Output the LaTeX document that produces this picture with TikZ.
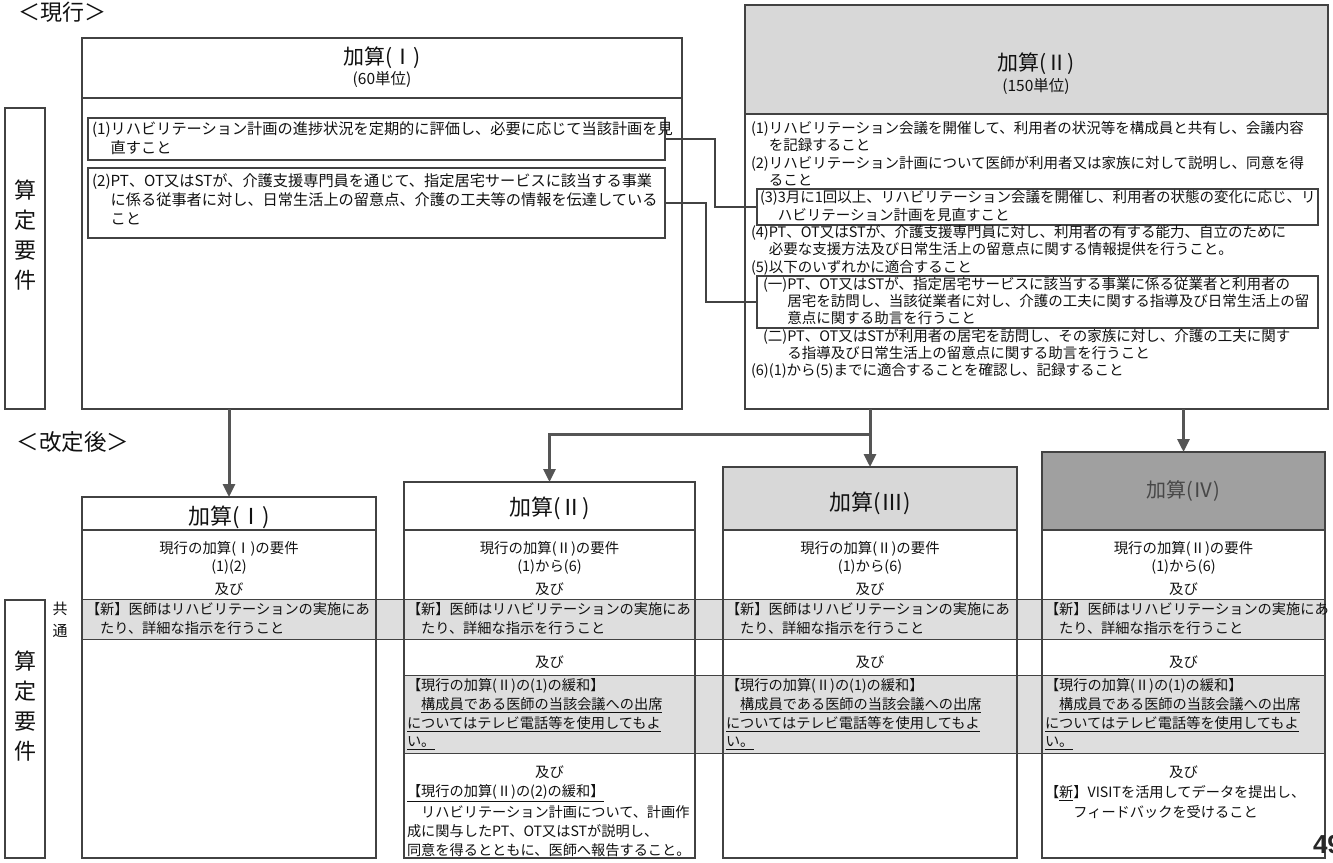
\documentclass[tikz,border=0pt]{standalone}
\usepackage{fontspec}
\setmainfont{Noto Sans CJK JP}
\newfontfamily\pgfont{Liberation Sans}
\usetikzlibrary{arrows.meta}
\definecolor{ink}{HTML}{111111}
\definecolor{frame}{HTML}{424242}
\definecolor{hdrlight}{HTML}{D8D8D8}
\definecolor{hdrdark}{HTML}{A0A0A0}
\definecolor{bandfill}{HTML}{DEDEDE}
\definecolor{arrowgray}{HTML}{555555}
\begin{document}
\begin{tikzpicture}[x=1pt,y=-1pt,
  every node/.style={inner sep=0pt, outer sep=0pt, text=ink},
  frm/.style={draw=frame, line width=1.6pt, anchor=north west},
  ibox/.style={draw=frame, line width=2.2pt, anchor=north west},
  ttop/.style={anchor=west, font=\fontsize{15.2}{17}\selectfont},
  tII/.style={anchor=west, font=\fontsize{14.5}{17}\selectfont},
  tbot/.style={anchor=west, font=\fontsize{14.2}{17}\selectfont},
  tmid/.style={anchor=center, font=\fontsize{14.4}{17}\selectfont},
  ttl/.style={anchor=center, font=\fontsize{22}{24}\selectfont},
  vlab/.style={anchor=center, align=center, font=\fontsize{22}{30}\selectfont},
  arr/.style={draw=arrowgray, line width=3pt, -{Triangle[length=13pt,width=12pt]}},
  conn/.style={draw=frame, line width=1.4pt},
]
\useasboundingbox (0,0) rectangle (1333,862);
\fill[white] (0,0) rectangle (1333,862);

% ---------------- current ----------------
\node[ttl] (cur) at (62,12) {＜現行＞};
\node[frm, minimum width=40pt, minimum height=301pt] (lab1) at (5,108) {};
\node[vlab] (lab1t) at (25,235) {算\\定\\要\\件};

% box I
\node[frm, minimum width=600pt, minimum height=60pt] (b1h) at (82,38) {};
\node[frm, minimum width=600pt, minimum height=311pt] (b1) at (82,98) {};
\node[ttl, font=\fontsize{21}{24}\selectfont] (b1t) at (382,58) {加算(Ⅰ)};
\node[ttl, font=\fontsize{15.5}{17}\selectfont] (b1u) at (382,80) {(60単位)};
\node[ibox, minimum width=577pt, minimum height=42pt] (r1) at (88,118) {};
\node[ibox, minimum width=577pt, minimum height=70pt] (r2) at (88,168) {};
\node[ttop] (a1) at (92,130) {(1)リハビリテーション計画の進捗状況を定期的に評価し、必要に応じて当該計画を見};
\node[ttop] (a2) at (92,149) {\phantom{(1)}直すこと};
\node[ttop] (a3) at (92,182) {(2)PT、OT又はSTが、介護支援専門員を通じて、指定居宅サービスに該当する事業};
\node[ttop] (a4) at (92,201) {\phantom{(2)}に係る従事者に対し、日常生活上の留意点、介護の工夫等の情報を伝達している};
\node[ttop] (a5) at (92,220) {\phantom{(2)}こと};

% box II
\node[frm, fill=hdrlight, minimum width=583pt, minimum height=109pt] (b2h) at (745,5) {};
\node[frm, minimum width=583pt, minimum height=295pt] (b2) at (745,114) {};
\node[ttl, font=\fontsize{21}{24}\selectfont] (b2t) at (1036,64) {加算(Ⅱ)};
\node[ttl, font=\fontsize{15.5}{17}\selectfont] (b2u) at (1036,87) {(150単位)};
\node[ibox, minimum width=561pt, minimum height=36pt] (r3) at (757,189) {};
\node[ibox, minimum width=561pt, minimum height=52pt] (r5) at (757,276) {};
\node[tII] (s0) at (751,129.0) {(1)リハビリテーション会議を開催して、利用者の状況等を構成員と共有し、会議内容};
\node[tII] (s1) at (751,146.3) {\phantom{(1)}を記録すること};
\node[tII] (s2) at (751,163.6) {(2)リハビリテーション計画について医師が利用者又は家族に対して説明し、同意を得};
\node[tII] (s3) at (751,180.9) {\phantom{(2)}ること};
\node[tII] (s4) at (760,198.2) {(3)3月に1回以上、リハビリテーション会議を開催し、利用者の状態の変化に応じ、リ};
\node[tII] (s5) at (760,215.5) {\phantom{(3)}ハビリテーション計画を見直すこと};
\node[tII] (s6) at (751,232.8) {(4)PT、OT又はSTが、介護支援専門員に対し、利用者の有する能力、自立のために};
\node[tII] (s7) at (751,250.1) {\phantom{(4)}必要な支援方法及び日常生活上の留意点に関する情報提供を行うこと。};
\node[tII] (s8) at (751,267.4) {(5)以下のいずれかに適合すること};
\node[tII] (s9) at (763,284.7) {(一)PT、OT又はSTが、指定居宅サービスに該当する事業に係る従業者と利用者の};
\node[tII] (s10) at (763,302.0) {\phantom{(一)}居宅を訪問し、当該従業者に対し、介護の工夫に関する指導及び日常生活上の留};
\node[tII] (s11) at (763,319.3) {\phantom{(一)}意点に関する助言を行うこと};
\node[tII] (s12) at (763,336.6) {(二)PT、OT又はSTが利用者の居宅を訪問し、その家族に対し、介護の工夫に関す};
\node[tII] (s13) at (763,353.9) {\phantom{(二)}る指導及び日常生活上の留意点に関する助言を行うこと};
\node[tII] (s14) at (751,371.2) {(6)(1)から(5)までに適合することを確認し、記録すること};

% connectors box I -> box II
\coordinate (k1) at (715,0);
\coordinate (k2) at (706,0);
\draw[conn] (r1.east) -| (k1 |- r3.west) -- (r3.west);
\draw[conn] (r2.east) -| (k2 |- r5.west) -- (r5.west);

% ---------------- revised ----------------
\node[ttl, font=\fontsize{22.5}{24}\selectfont] (rev) at (73,442) {＜改定後＞};
\node[frm, minimum width=40pt, minimum height=258pt] (lab2) at (5,600) {};
\node[vlab] (lab2t) at (25,706) {算\\定\\要\\件};
\node[vlab, font=\fontsize{15}{22}\selectfont] (com) at (60,620) {共\\通};

% bands
\node[draw=frame, line width=1pt, fill=bandfill, anchor=north west, minimum width=1243pt, minimum height=40pt] (band1) at (82,599) {};
\node[draw=frame, line width=1pt, fill=bandfill, anchor=north west, minimum width=921pt, minimum height=78pt] (band2) at (404,675) {};

% columns
\node[frm, minimum width=294pt, minimum height=33pt] (c1h) at (82,497) {};
\node[frm, minimum width=294pt, minimum height=328pt] (c1) at (82,530) {};
\node[frm, minimum width=291pt, minimum height=48pt] (c2h) at (404,482) {};
\node[frm, minimum width=291pt, minimum height=328pt] (c2) at (404,530) {};
\node[frm, fill=hdrlight, minimum width=294pt, minimum height=63pt] (c3h) at (723,467) {};
\node[frm, minimum width=294pt, minimum height=328pt] (c3) at (723,530) {};
\node[frm, fill=hdrdark, minimum width=283pt, minimum height=78pt] (c4h) at (1042,452) {};
\node[frm, minimum width=283pt, minimum height=328pt] (c4) at (1042,530) {};

\node[ttl] (c1t) at (229,517) {加算(Ⅰ)};
\node[ttl] (c2t) at (549.5,508) {加算(Ⅱ)};
\node[ttl] (c3t) at (870,503) {加算(Ⅲ)};
\node[ttl, font=\fontsize{20}{22}\selectfont, text=black!72] (c4t) at (1183.5,491) {加算(Ⅳ)};

% column 1
\node[tmid] (d1a) at (229,549) {現行の加算(Ⅰ)の要件};
\node[tmid] (d1b) at (229,567) {(1)(2)};
\node[tmid] (d1c) at (229,589) {及び};
\node[tbot] (d1d) at (86,609) {【新】医師はリハビリテーションの実施にあ};
\node[tbot] (d1e) at (86,628) {\hspace*{1em}たり、詳細な指示を行うこと};

% column 2
\node[tmid] (d2a) at (549.5,549) {現行の加算(Ⅱ)の要件};
\node[tmid] (d2b) at (549.5,567) {(1)から(6)};
\node[tmid] (d2c) at (549.5,589) {及び};
\node[tbot] (d2d) at (407,609) {【新】医師はリハビリテーションの実施にあ};
\node[tbot] (d2e) at (407,628) {\hspace*{1em}たり、詳細な指示を行うこと};
\node[tmid] (d2f) at (549.5,662) {及び};
\node[tbot] (d2g) at (407,686) {【現行の加算(Ⅱ)の(1)の緩和】};
\node[tbot] (d2h) at (407,705) {\hspace*{1em}\underline{構成員である医師の当該会議への出席}};
\node[tbot] (d2i) at (407,724) {\underline{についてはテレビ電話等を使用してもよ}};
\node[tbot] (d2j) at (407,743) {\underline{い。}};
\node[tmid] (d2k) at (549.5,772) {及び};
\node[tbot] (d2l) at (407,793) {\underline{【現行の加算(Ⅱ)の(2)の緩和】}};
\node[tbot] (d2m) at (407,812) {\hspace*{1em}リハビリテーション計画について、計画作};
\node[tbot] (d2n) at (407,831) {成に関与したPT、OT又はSTが説明し、};
\node[tbot] (d2o) at (407,850) {同意を得るとともに、医師へ報告すること。};

% column 3
\node[tmid] (d3a) at (870,549) {現行の加算(Ⅱ)の要件};
\node[tmid] (d3b) at (870,567) {(1)から(6)};
\node[tmid] (d3c) at (870,589) {及び};
\node[tbot] (d3d) at (726,609) {【新】医師はリハビリテーションの実施にあ};
\node[tbot] (d3e) at (726,628) {\hspace*{1em}たり、詳細な指示を行うこと};
\node[tmid] (d3f) at (870,662) {及び};
\node[tbot] (d3g) at (726,686) {【現行の加算(Ⅱ)の(1)の緩和】};
\node[tbot] (d3h) at (726,705) {\hspace*{1em}\underline{構成員である医師の当該会議への出席}};
\node[tbot] (d3i) at (726,724) {\underline{についてはテレビ電話等を使用してもよ}};
\node[tbot] (d3j) at (726,743) {\underline{い。}};

% column 4
\node[tmid] (d4a) at (1183.5,549) {現行の加算(Ⅱ)の要件};
\node[tmid] (d4b) at (1183.5,567) {(1)から(6)};
\node[tmid] (d4c) at (1183.5,589) {及び};
\node[tbot] (d4d) at (1045,609) {【新】医師はリハビリテーションの実施にあ};
\node[tbot] (d4e) at (1045,628) {\hspace*{1em}たり、詳細な指示を行うこと};
\node[tmid] (d4f) at (1183.5,662) {及び};
\node[tbot] (d4g) at (1045,686) {【現行の加算(Ⅱ)の(1)の緩和】};
\node[tbot] (d4h) at (1045,705) {\hspace*{1em}\underline{構成員である医師の当該会議への出席}};
\node[tbot] (d4i) at (1045,724) {\underline{についてはテレビ電話等を使用してもよ}};
\node[tbot] (d4j) at (1045,743) {\underline{い。}};
\node[tmid] (d4k) at (1183.5,772) {及び};
\node[tbot] (d4l) at (1045,793) {【\underline{新}】VISITを活用してデータを提出し、};
\node[tbot] (d4m) at (1045,812) {\hspace*{2em}フィードバックを受けること};

% arrows
\coordinate (jn) at (0,434);
\draw[arr] (b1.south -| c1h.north) -- (c1h.north);
\draw[arr] (b2.south -| c3h.north) -- (c3h.north);
\draw[arr] (c3h.north |- jn) -| (c2h.north);
\draw[arr] (b2.south -| c4h.north) -- (c4h.north);

% page number
\node[anchor=west, font=\pgfont\bfseries\fontsize{26}{28}\selectfont, text=black!85] (pg) at (1313,845) {49};
\end{tikzpicture}
\end{document}
